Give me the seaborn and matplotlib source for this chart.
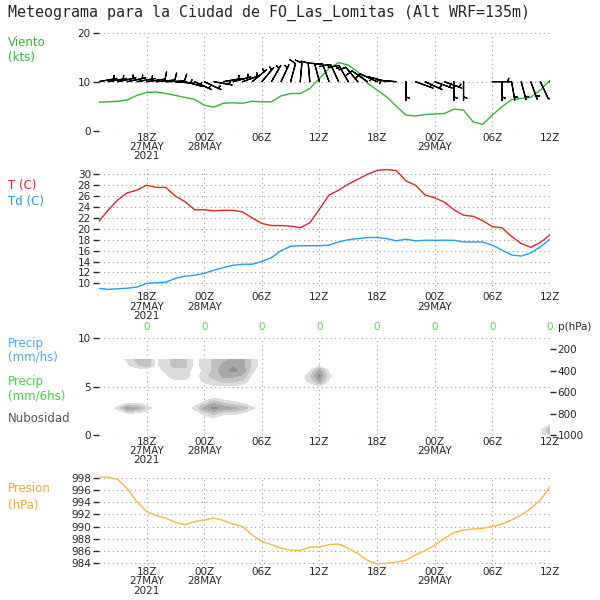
import numpy as np
import pandas as pd
import matplotlib
matplotlib.use("Agg")
import matplotlib.pyplot as plt
import seaborn as sns

# hourly series, 27MAY 13Z -> 29MAY 12Z
hours = np.arange(48)

wind_kt = [5.8, 5.9, 6.0, 6.3, 7.2, 7.8, 7.9, 7.6, 7.2, 6.8, 6.4,
           5.2, 4.8, 5.6, 5.7, 5.6, 6.0, 5.9, 5.9, 7.1, 7.6, 7.6, 8.6, 10.7,
           12.7, 13.9, 13.4, 12.0, 9.7, 8.3, 6.9, 5.0, 3.2, 3.0, 3.3,
           3.4, 3.5, 4.4, 4.2, 1.8, 1.3, 3.2, 4.9, 6.3, 6.6, 6.8, 8.3, 10.3]
wind_dir = [80, 80, 78, 78, 80, 82, 85, 88, 95, 105, 115,
            115, 100, 80, 75, 70, 50, 40, 30, 25, 15, 5, 355, 345,
            340, 335, 330, 320, 305, 295, 285, 275, 180, 110, 115,
            110, 110, 180, 180, 70, 180, 90, 180, 170, 165, 160, 155, 150]

temp_c = [21.3, 23.4, 25.3, 26.6, 27.1, 28.0, 27.6, 27.6, 26.0, 25.0, 23.5,
          23.5, 23.3, 23.4, 23.4, 23.1, 22.0, 21.0, 20.6, 20.6, 20.5, 20.2, 21.1, 23.6,
          26.2, 27.1, 28.2, 29.1, 30.0, 30.7, 30.9, 30.7, 28.8, 28.0, 26.2,
          25.7, 24.9, 23.5, 22.5, 22.3, 21.5, 20.4, 20.2, 18.6, 17.3, 16.6, 17.5, 18.9]
dewp_c = [9.1, 8.9, 9.0, 9.1, 9.3, 10.0, 10.1, 10.2, 10.9, 11.3, 11.5,
          11.8, 12.4, 12.9, 13.3, 13.5, 13.5, 14.0, 14.7, 16.0, 16.8, 16.9, 16.9, 16.9,
          17.0, 17.6, 18.0, 18.2, 18.4, 18.4, 18.2, 17.8, 18.1, 17.8, 17.9,
          17.9, 17.9, 17.9, 17.6, 17.6, 17.6, 17.0, 16.1, 15.2, 15.0, 15.6, 16.7, 18.1]
pres_hpa = [998.2, 998.2, 997.8, 996.3, 994.1, 992.5, 991.8, 991.4, 990.7, 990.3, 990.8,
            991.1, 991.4, 991.0, 990.4, 990.0, 988.6, 987.5, 987.0, 986.4, 986.1, 986.0, 986.6, 986.6,
            987.0, 987.1, 986.4, 985.5, 984.4, 983.8, 983.9, 984.1, 984.4, 985.3, 986.0,
            986.9, 988.0, 989.0, 989.4, 989.6, 989.7, 990.0, 990.4, 991.1, 991.9, 993.0, 994.4, 996.6]

# cloud fraction (tenths), one string per level, one char per hour
cloud_p = [300, 350, 400, 450, 500, 550, 600, 650, 700, 750, 800, 850, 900, 950, 1000]
cloud_rows = [
    "00024513441245663" + "0" * 31,
    "00013513441246763" + "000000" + "1" + "0" * 24,
    "00000002330247872" + "00000" + "161" + "0" * 23,
    "00000001330346651" + "00000" + "382" + "0" * 23,
    "00000000110234430" + "00000" + "261" + "0" * 23,
    "00000000000011100" + "000000" + "1" + "0" * 24,
    "0" * 48,
    "0" * 12 + "1" + "0" * 35,
    "0001100000025321" + "0" * 32,
    "00276300002687652" + "0" * 31,
    "0001100000024221" + "0" * 32,
    "0" * 12 + "1" + "0" * 35,
    "0" * 47 + "1",
    "0" * 46 + "15",
    "0" * 46 + "13",
]
cloud = np.array([[int(c) for c in row] for row in cloud_rows]) / 10.0

precip_6h = [0, 0, 0, 0, 0, 0, 0, 0]

tick_hours = [5, 11, 17, 23, 29, 35, 41, 47]
tick_labels = ["18Z\n27MAY\n2021", "00Z\n28MAY", "06Z", "12Z",
               "18Z", "00Z\n29MAY", "06Z", "12Z"]

df = pd.DataFrame({"h": hours, "wind": wind_kt, "t": temp_c, "td": dewp_c, "p": pres_hpa})

sns.set_style("white")
plt.rcParams["font.family"] = ["DejaVu Sans"]

fig = plt.figure(figsize=(6, 6), dpi=100)
L, W = 98.5 / 600, 451.5 / 600


def panel(top_px, bot_px):
    return fig.add_axes([L, 1 - bot_px / 600, W, (bot_px - top_px) / 600])


def style(ax):
    ax.set_xlim(0, 47)
    ax.set_xticks(tick_hours)
    ax.set_xticklabels(tick_labels, fontsize=7.5, linespacing=0.9)
    for s in ax.spines.values():
        s.set_visible(False)
    ax.grid(True, color="#9a9a9a", linestyle=(0, (1, 3)), linewidth=0.8)
    ax.tick_params(axis="y", left=True, direction="out", length=4, width=1,
                   pad=1.5, labelsize=7.5)
    ax.tick_params(axis="x", bottom=False, length=0, pad=1.5)
    ax.set_xlabel("")
    ax.set_ylabel("")


# --- wind ---
ax1 = panel(32.7, 130.7)
sns.lineplot(data=df, x="h", y="wind", ax=ax1, color="#33b533", linewidth=1)
d = np.deg2rad(wind_dir)
u = -np.array(wind_kt) * np.sin(d)
v = -np.array(wind_kt) * np.cos(d)
ax1.barbs(hours, np.full(48, 10.0), u, v, length=5.2, flip_barb=True,
          sizes={"emptybarb": 0.0, "height": 0.36}, linewidth=0.9,
          color="black", zorder=3)
ax1.set_ylim(0, 20)
ax1.set_yticks([0, 10, 20])
style(ax1)

# --- temperature / dew point ---
ax2 = panel(168.9, 290.4)
sns.lineplot(data=df, x="h", y="t", ax=ax2, color="#e3241b", linewidth=1)
sns.lineplot(data=df, x="h", y="td", ax=ax2, color="#1e9bff", linewidth=1)
ax2.set_ylim(8.7, 31.0)
ax2.set_yticks(range(10, 31, 2))
style(ax2)

# --- precip / clouds ---
ax3 = panel(338.3, 435.0)
ax3.set_ylim(0, 10)
ax3.set_yticks([0, 5, 10])
style(ax3)
for h, pr in zip(tick_hours, precip_6h):
    ax3.annotate(f"{pr:g}", (h, 10), xytext=(0, 4.5), textcoords="offset points",
                 ha="center", va="bottom", fontsize=7.5, color="#55d655")
ax3b = ax3.twinx()
ax3b.contourf(hours, cloud_p, cloud, levels=[0.15, 0.35, 0.55, 0.75, 1.0],
              colors=["#dcdcdc", "#c2c2c2", "#a8a8a8", "#8e8e8e"])
ax3b.set_ylim(1000, 100)
ax3b.set_yticks([200, 400, 600, 800, 1000])
for s in ax3b.spines.values():
    s.set_visible(False)
ax3b.grid(False)
ax3b.tick_params(axis="y", right=True, direction="out", length=4, width=1,
                 pad=1.5, labelsize=7.5)
ax3b.set_ylabel("")
ax3.annotate("p(hPa)", (1.0, 1.0), xycoords="axes fraction", xytext=(6, 4.5),
             textcoords="offset points", ha="left", va="bottom", fontsize=7.5)

# --- pressure ---
ax4 = panel(475.9, 565.1)
sns.lineplot(data=df, x="h", y="p", ax=ax4, color="#fbb73c", linewidth=1)
ax4.set_ylim(983.6, 998.4)
ax4.set_yticks(range(984, 999, 2))
style(ax4)

# --- titles and labels ---
fig.text(8 / 600, 1 - 13 / 600, "Meteograma para la Ciudad de FO_Las_Lomitas (Alt WRF=135m)",
         family="DejaVu Sans Mono", fontsize=10.8, va="center", ha="left")
side = [("Viento", 43, "#33b533"), ("(kts)", 58, "#33b533"),
        ("T (C)", 185, "#e3241b"), ("Td (C)", 202, "#1e9bff"),
        ("Precip", 344, "#4aa8e8"), ("(mm/hs)", 357, "#4aa8e8"),
        ("Precip", 382, "#3ed23e"), ("(mm/6hs)", 396, "#3ed23e"),
        ("Nubosidad", 418, "#555555"),
        ("Presion", 488, "#f5a623"), ("(hPa)", 505, "#f5a623")]
for txt, y, col in side:
    fig.text(8 / 600, 1 - y / 600, txt, color=col, fontsize=8.5, va="center", ha="left")

fig.savefig("out.png", dpi=100)
